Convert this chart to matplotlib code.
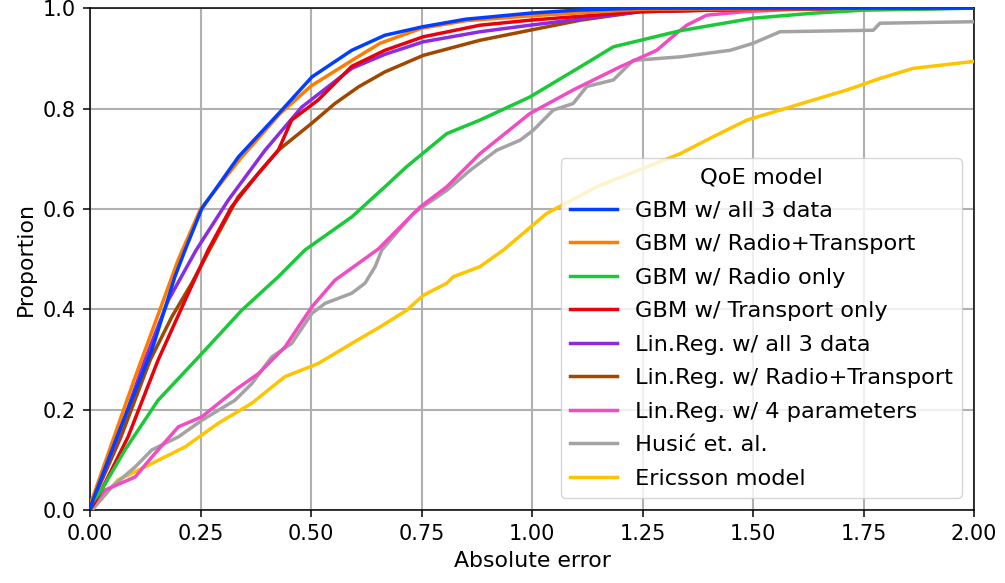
import numpy as np
from matplotlib import pyplot as plt

# points (absolute error, proportion)
gbm_all_x = [0.0, 0.004, 0.064, 0.14, 0.192, 0.215, 0.253, 0.336, 0.434, 0.502, 0.592, 0.667, 0.753, 0.85, 0.995, 1.1, 1.244, 2.0]
gbm_all_y = [0.0, 0.014, 0.153, 0.319, 0.465, 0.518, 0.601, 0.704, 0.797, 0.863, 0.916, 0.946, 0.963, 0.978, 0.99, 0.996, 1.0, 1.0]

gbm_rt_x = [0.0, 0.004, 0.06, 0.1, 0.2, 0.25, 0.34, 0.43, 0.5, 0.6, 0.656, 0.75, 0.85, 1.0, 1.25, 2.0]
gbm_rt_y = [0.0, 0.02, 0.16, 0.26, 0.5, 0.6, 0.7, 0.79, 0.845, 0.9, 0.93, 0.96, 0.975, 0.985, 0.998, 1.0]

gbm_radio_x = [0.0, 0.004, 0.026, 0.079, 0.154, 0.253, 0.343, 0.426, 0.486, 0.592, 0.667, 0.716, 0.807, 0.882, 0.995, 1.109, 1.184, 1.335, 1.5, 1.636, 1.75, 2.0]
gbm_radio_y = [0.0, 0.014, 0.04, 0.12, 0.219, 0.312, 0.398, 0.465, 0.518, 0.584, 0.644, 0.684, 0.75, 0.777, 0.823, 0.883, 0.923, 0.955, 0.98, 0.99, 0.996, 1.0]

gbm_tr_x = [0.0, 0.026, 0.086, 0.154, 0.215, 0.267, 0.32, 0.381, 0.426, 0.456, 0.516, 0.592, 0.667, 0.754, 0.882, 0.995, 1.244, 1.5, 2.0]
gbm_tr_y = [0.0, 0.04, 0.146, 0.299, 0.418, 0.518, 0.604, 0.671, 0.717, 0.777, 0.817, 0.884, 0.916, 0.943, 0.966, 0.976, 0.993, 0.998, 1.0]

lr_all_x = [0.0, 0.004, 0.063, 0.124, 0.177, 0.24, 0.313, 0.396, 0.479, 0.592, 0.667, 0.754, 0.882, 0.995, 1.244, 1.5, 2.0]
lr_all_y = [0.0, 0.014, 0.146, 0.299, 0.418, 0.518, 0.618, 0.717, 0.803, 0.88, 0.908, 0.933, 0.953, 0.966, 0.993, 0.998, 1.0]

lr_rt_x = [0.0, 0.004, 0.07, 0.136, 0.185, 0.23, 0.27, 0.335, 0.426, 0.502, 0.554, 0.607, 0.667, 0.754, 0.882, 0.995, 1.109, 1.244, 1.5, 2.0]
lr_rt_y = [0.0, 0.014, 0.146, 0.299, 0.385, 0.452, 0.518, 0.624, 0.717, 0.771, 0.81, 0.843, 0.873, 0.906, 0.936, 0.956, 0.976, 0.993, 0.998, 1.0]

lr_4p_x = [0.0, 0.004, 0.034, 0.102, 0.14, 0.2, 0.253, 0.328, 0.381, 0.441, 0.502, 0.554, 0.652, 0.747, 0.807, 0.882, 0.995, 1.093, 1.199, 1.282, 1.327, 1.35, 1.395, 1.48, 1.6, 2.0]
lr_4p_y = [0.0, 0.007, 0.04, 0.066, 0.106, 0.166, 0.186, 0.239, 0.272, 0.325, 0.405, 0.458, 0.52, 0.604, 0.644, 0.71, 0.79, 0.837, 0.883, 0.916, 0.95, 0.966, 0.986, 0.993, 0.998, 1.0]

husic_x = [0.0, 0.004, 0.049, 0.102, 0.14, 0.2, 0.253, 0.328, 0.366, 0.411, 0.456, 0.502, 0.532, 0.592, 0.622, 0.645, 0.66, 0.731, 0.807, 0.86, 0.92, 0.973, 1.003, 1.048, 1.093, 1.124, 1.184, 1.229, 1.335, 1.448, 1.5, 1.561, 1.772, 1.787, 2.0]
husic_y = [0.0, 0.0, 0.046, 0.086, 0.12, 0.146, 0.179, 0.219, 0.252, 0.305, 0.332, 0.392, 0.412, 0.432, 0.452, 0.485, 0.518, 0.591, 0.637, 0.677, 0.717, 0.737, 0.757, 0.797, 0.81, 0.844, 0.857, 0.896, 0.903, 0.916, 0.93, 0.953, 0.956, 0.97, 0.973]

ericsson_x = [0.0, 0.004, 0.063, 0.14, 0.215, 0.29, 0.366, 0.441, 0.516, 0.592, 0.656, 0.716, 0.754, 0.807, 0.822, 0.882, 0.935, 1.033, 1.146, 1.26, 1.335, 1.41, 1.486, 1.561, 1.636, 1.712, 1.787, 1.862, 2.0]
ericsson_y = [0.0, 0.0, 0.06, 0.093, 0.126, 0.173, 0.213, 0.266, 0.292, 0.332, 0.365, 0.398, 0.428, 0.452, 0.465, 0.485, 0.518, 0.591, 0.644, 0.684, 0.71, 0.744, 0.777, 0.797, 0.817, 0.837, 0.86, 0.88, 0.894]

labels = ['GBM w/ all 3 data', 'GBM w/ Radio+Transport', 'GBM w/ Radio only',
          'GBM w/ Transport only', 'Lin.Reg. w/ all 3 data', 'Lin.Reg. w/ Radio+Transport',
          'Lin.Reg. w/ 4 parameters', 'Husić et. al.', 'Ericsson model']
series = [(gbm_all_x, gbm_all_y), (gbm_rt_x, gbm_rt_y), (gbm_radio_x, gbm_radio_y),
          (gbm_tr_x, gbm_tr_y), (lr_all_x, lr_all_y), (lr_rt_x, lr_rt_y),
          (lr_4p_x, lr_4p_y), (husic_x, husic_y), (ericsson_x, ericsson_y)]
colors = ['#023eff', '#ff7c00', '#1ac938', '#e8000b', '#8b2be2', '#9f4800',
          '#f14cc1', '#a3a3a3', '#ffc400']

fig = plt.figure(figsize=(10.05, 5.83), dpi=100)
ax = fig.add_axes([0.0896, 0.125, 0.8796, 0.861])

# draw back to front so the blue curve ends on top
for i in reversed(range(len(series))):
    x, y = series[i]
    ax.plot(x, y, color=colors[i], lw=2.5, label=labels[i], zorder=3 + (len(series) - i) * 0.01)

ax.set_xlim(0, 2)
ax.set_ylim(0, 1)
ax.set_xticks(np.arange(0, 2.01, 0.25))
ax.set_yticks(np.arange(0, 1.01, 0.2))
ax.tick_params(labelsize=15, length=4.8, width=1.1, pad=5.5)
for s in ax.spines.values():
    s.set_linewidth(1.1)
ax.grid(True, color='#b0b0b0', lw=1.5)
ax.set_axisbelow(True)
ax.set_xlabel('Absolute error', fontsize=15.8, labelpad=5)
ax.set_ylabel('Proportion', fontsize=15.8, labelpad=5)

handles, labs = ax.get_legend_handles_labels()
ax.legend(handles[::-1], labs[::-1], title='QoE model', loc='lower right',
          fontsize=16.2, title_fontsize=16.2, handlelength=2.1, borderaxespad=0.55,
          labelspacing=0.6)

fig.savefig('out.png', dpi=100)
